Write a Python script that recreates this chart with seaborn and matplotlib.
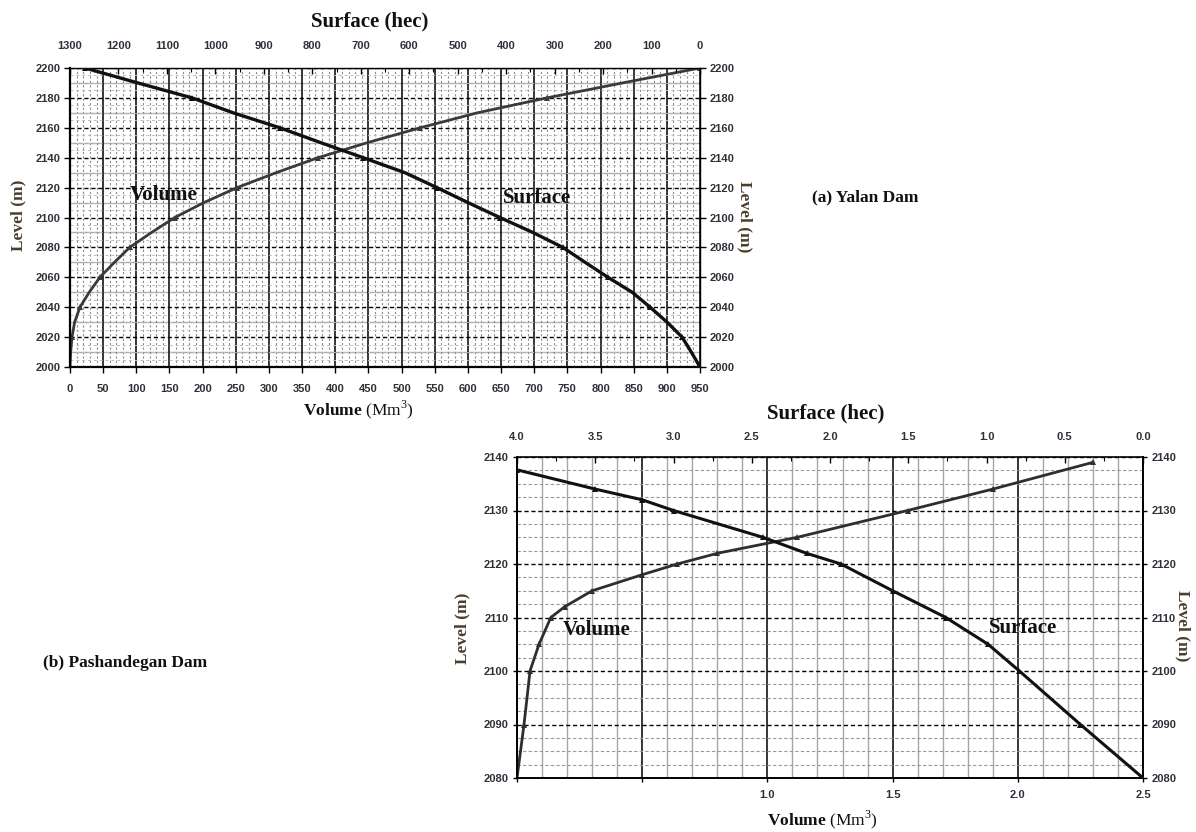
import numpy as np
import pandas as pd
import matplotlib
matplotlib.use("Agg")
import matplotlib.pyplot as plt
import seaborn as sns
from matplotlib.ticker import MultipleLocator

# ---------------- data ----------------
# (a) Yalan Dam
level_a = [2000, 2010, 2020, 2030, 2040, 2050, 2060, 2070, 2080, 2090, 2100,
           2110, 2120, 2130, 2140, 2150, 2160, 2170, 2180, 2190, 2200]
volume_a = [0, 1, 3, 7, 15, 29, 45, 67, 90, 123, 158,
            202, 252, 311, 374, 448, 528, 614, 719, 833, 950]
surface_a = [0, 18, 37, 68, 103, 140, 190, 237, 283, 345, 413,
             479, 543, 609, 695, 782, 867, 963, 1048, 1160, 1269]

# (b) Pashandegan Dam
level_b_vol = [2080, 2090, 2100, 2105, 2110, 2112, 2115, 2118, 2120, 2122,
               2125, 2130, 2134, 2139]
volume_b = [0, 0.028, 0.052, 0.088, 0.135, 0.19, 0.30, 0.50, 0.64, 0.80,
            1.12, 1.56, 1.90, 2.30]
level_b_surf = [2080, 2090, 2100, 2105, 2110, 2115, 2120, 2122, 2125, 2130,
                2132, 2134, 2137.6]
surface_b = [0, 0.40, 0.79, 0.99, 1.26, 1.60, 1.93, 2.15, 2.43, 3.00,
             3.20, 3.50, 4.00]

# tick labels
vol_ticks_a = list(range(0, 951, 50))
surf_ticks_a = list(range(1300, -1, -100))
lev_ticks_a = list(range(2000, 2201, 20))
vol_ticks_b = [0, 0.5, 1.0, 1.5, 2.0, 2.5]
vol_labels_b = ["", "", "1.0", "1.5", "2.0", "2.5"]
surf_ticks_b = [4.0, 3.5, 3.0, 2.5, 2.0, 1.5, 1.0, 0.5, 0.0]
lev_ticks_b = list(range(2080, 2141, 10))

# ---------------- style ----------------
plt.rcParams["font.family"] = ["Liberation Serif", "DejaVu Serif"]
plt.rcParams["mathtext.fontset"] = "custom"
plt.rcParams["mathtext.rm"] = "Liberation Serif"
plt.rcParams["mathtext.bf"] = "Liberation Serif:bold"

TICK_FONT = dict(family=["Liberation Sans", "DejaVu Sans"], weight="bold", size=8)
TICK_COLOR = "#30303a"
LABEL_COLOR = "#4a3d2a"

W, H = 1196, 832
fig = plt.figure(figsize=(W / 100, H / 100), dpi=100)


def fx(px):
    return px / W


def fy(py):
    return 1 - py / H


def box(x0, y0, x1, y1):
    return [fx(x0), fy(y1), fx(x1) - fx(x0), fy(y0) - fy(y1)]


# ================= (a) Yalan Dam =================
ax_a = fig.add_axes(box(70, 68, 700, 367))
ax_a.set_xlim(0, 950)
ax_a.set_ylim(2000, 2200)
ax_a.set_xticks(vol_ticks_a)
ax_a.set_xticklabels([str(v) for v in vol_ticks_a], fontdict=TICK_FONT, color=TICK_COLOR)
ax_a.set_yticks(lev_ticks_a)
ax_a.set_yticklabels([str(v) for v in lev_ticks_a], fontdict=TICK_FONT, color=TICK_COLOR)
ax_a.xaxis.set_minor_locator(MultipleLocator(10))
ax_a.yaxis.set_minor_locator(MultipleLocator(5))
ax_a.tick_params(axis="both", which="major", direction="out", length=4, width=1, pad=4)
ax_a.tick_params(axis="y", which="major", right=True, labelright=True, pad=3)
ax_a.tick_params(axis="x", which="major", pad=8)
ax_a.tick_params(which="minor", length=0)
ax_a.grid(which="major", axis="x", color="black", lw=1.1, ls="-")
ax_a.grid(which="minor", axis="x", color="#8c8c8c", lw=0.8, ls=(0, (2, 2)))
ax_a.grid(which="major", axis="y", color="black", lw=1.0, ls=(0, (3, 2)))
ax_a.grid(which="minor", axis="y", color="#bdbdbd", lw=0.7, ls=(0, (3, 3)))
for yv in range(2010, 2200, 20):
    ax_a.axhline(yv, color="#aaaaaa", lw=1.0, zorder=1.4)
for side in ["left", "bottom"]:
    ax_a.spines[side].set_linewidth(1.6)
for side in ["top", "right"]:
    ax_a.spines[side].set_linewidth(1.0)

sns.lineplot(x=volume_a, y=level_a, ax=ax_a, sort=False, estimator=None,
             color="#3a3a3a", lw=2.0, marker="^", markersize=5,
             markeredgewidth=0, markevery=2)

ax_a2 = ax_a.twiny()
ax_a2.set_xlim(1300, 0)
ax_a2.set_xticks(surf_ticks_a)
ax_a2.set_xticklabels([str(v) for v in surf_ticks_a], fontdict=TICK_FONT, color=TICK_COLOR)
ax_a2.xaxis.set_minor_locator(MultipleLocator(50))
ax_a2.tick_params(axis="x", which="major", direction="in", length=4, width=1, pad=12)
ax_a2.tick_params(axis="x", which="minor", direction="in", length=3, width=0.8)
for s in ax_a2.spines.values():
    s.set_visible(False)
sns.lineplot(x=surface_a, y=level_a, ax=ax_a2, sort=False, estimator=None,
             color="#111111", lw=2.4, marker="^", markersize=5,
             markeredgewidth=0, markevery=2)
for a in (ax_a, ax_a2):
    a.set_xlabel("")
    a.set_ylabel("")

ax_a2.text(0.148, 0.575, "Volume", transform=ax_a.transAxes, ha="center", va="center",
           fontsize=15, fontweight="bold", color="#111111", zorder=5)
ax_a2.text(0.741, 0.565, "Surface", transform=ax_a.transAxes, ha="center", va="center",
           fontsize=15, fontweight="bold", color="#111111", zorder=5)

fig.text(fx(370), fy(21), "Surface (hec)", ha="center", va="center",
         fontsize=15, fontweight="bold", color="#111111")
fig.text(fx(358), fy(410), r"$\mathbf{Volume}$ (Mm$^{3}$)", ha="center", va="center",
         fontsize=12.5, color="#111111")
fig.text(fx(18), fy(215), "Level (m)", rotation=90, ha="center", va="center",
         fontsize=12.5, fontweight="bold", color=LABEL_COLOR)
fig.text(fx(745), fy(217), "Level (m)", rotation=270, ha="center", va="center",
         fontsize=12.5, fontweight="bold", color=LABEL_COLOR)
fig.text(fx(865), fy(197), "(a) Yalan Dam", ha="center", va="center",
         fontsize=12.5, fontweight="bold", color="#111111")

# ================= (b) Pashandegan Dam =================
ax_b = fig.add_axes(box(517, 457, 1143, 778))
ax_b.set_xlim(0, 2.5)
ax_b.set_ylim(2080, 2140)
ax_b.set_xticks(vol_ticks_b)
ax_b.set_xticklabels(vol_labels_b, fontdict=TICK_FONT, color=TICK_COLOR)
ax_b.set_yticks(lev_ticks_b)
ax_b.set_yticklabels([str(v) for v in lev_ticks_b], fontdict=TICK_FONT, color=TICK_COLOR)
ax_b.xaxis.set_minor_locator(MultipleLocator(0.1))
ax_b.yaxis.set_minor_locator(MultipleLocator(2.5))
ax_b.tick_params(axis="both", which="major", direction="out", length=3, width=1, pad=3)
ax_b.tick_params(axis="y", which="major", right=True, labelright=True)
ax_b.tick_params(axis="x", which="major", pad=6)
ax_b.tick_params(which="minor", length=0)
ax_b.grid(which="major", axis="x", color="black", lw=1.1, ls="-")
ax_b.grid(which="minor", axis="x", color="#a6a6a6", lw=1.0, ls="-")
ax_b.grid(which="major", axis="y", color="black", lw=1.0, ls=(0, (3, 2)))
ax_b.grid(which="minor", axis="y", color="#9a9a9a", lw=0.8, ls=(0, (3, 2)))
for side in ["left", "bottom", "right"]:
    ax_b.spines[side].set_linewidth(1.4)
ax_b.spines["top"].set_linewidth(1.2)

sns.lineplot(x=volume_b, y=level_b_vol, ax=ax_b, sort=False, estimator=None,
             color="#2e2e2e", lw=2.0, marker="^", markersize=4.5,
             markeredgewidth=0)

ax_b2 = ax_b.twiny()
ax_b2.set_xlim(4.0, 0.0)
ax_b2.set_xticks(surf_ticks_b)
ax_b2.set_xticklabels([f"{v:.1f}" for v in surf_ticks_b], fontdict=TICK_FONT, color=TICK_COLOR)
ax_b2.xaxis.set_minor_locator(MultipleLocator(0.25))
ax_b2.tick_params(axis="x", which="major", direction="in", length=4, width=1, pad=11)
ax_b2.tick_params(axis="x", which="minor", direction="in", length=3, width=0.8)
for s in ax_b2.spines.values():
    s.set_visible(False)
sns.lineplot(x=surface_b, y=level_b_surf, ax=ax_b2, sort=False, estimator=None,
             color="#111111", lw=2.2, marker="^", markersize=4.5,
             markeredgewidth=0)
for a in (ax_b, ax_b2):
    a.set_xlabel("")
    a.set_ylabel("")

ax_b2.text(0.128, 0.461, "Volume", transform=ax_b.transAxes, ha="center", va="center",
           fontsize=15, fontweight="bold", color="#111111", zorder=5)
ax_b2.text(0.808, 0.467, "Surface", transform=ax_b.transAxes, ha="center", va="center",
           fontsize=15, fontweight="bold", color="#111111", zorder=5)

fig.text(fx(826), fy(413), "Surface (hec)", ha="center", va="center",
         fontsize=15, fontweight="bold", color="#111111")
fig.text(fx(822), fy(820), r"$\mathbf{Volume}$ (Mm$^{3}$)", ha="center", va="center",
         fontsize=12.5, color="#111111")
fig.text(fx(462), fy(628), "Level (m)", rotation=90, ha="center", va="center",
         fontsize=12.5, fontweight="bold", color=LABEL_COLOR)
fig.text(fx(1183), fy(626), "Level (m)", rotation=270, ha="center", va="center",
         fontsize=12.5, fontweight="bold", color=LABEL_COLOR)
fig.text(fx(125), fy(663), "(b) Pashandegan Dam", ha="center", va="center",
         fontsize=12.5, fontweight="bold", color="#111111")

fig.savefig("out.png", dpi=100)
